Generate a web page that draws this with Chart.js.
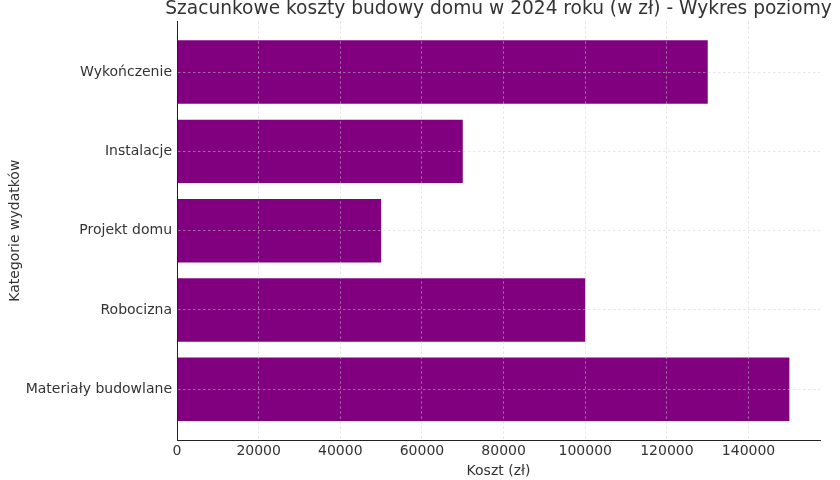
<!DOCTYPE html>
<html>
<head>
<meta charset="utf-8">
<script src="https://cdn.jsdelivr.net/npm/chart.js@4"></script>
<style>
  html, body { margin: 0; padding: 0; background: #fff; }
  #wrap { width: 840px; height: 480px; }
</style>
</head>
<body>
<div id="wrap"><canvas id="costChart"></canvas></div>
<script>
'use strict';

// Data, bottom to top (matplotlib barh order)
const categories = ['Materiały budowlane', 'Robocizna', 'Projekt domu', 'Instalacje', 'Wykończenie'];
const costs      = [150000, 100000, 50000, 70000, 130000];
const xTicks     = [0, 20000, 40000, 60000, 80000, 100000, 120000, 140000];

const TEXT = '#333333';
const GRID = 'rgba(205,205,205,0.5)';
const FONT = "'DejaVu Sans', sans-serif";

// Center the title over the plot area (like matplotlib), not the canvas
const centerTitle = {
  id: 'centerTitle',
  afterLayout(chart) {
    const t = chart.titleBlock;
    if (!t) return;
    const cx = (chart.chartArea.left + chart.chartArea.right) / 2;
    t.left = cx - 450;
    t.right = cx + 450;
  },
};

const ctx = document.getElementById('costChart').getContext('2d');
new Chart(ctx, {
  type: 'bar',
  data: {
    datasets: [{
      label: 'Koszt',
      data: costs.map((v, i) => ({ x: v, y: i })),
      backgroundColor: '#800080',
      borderWidth: 0,
      barPercentage: 0.8,
      categoryPercentage: 1,
    }],
  },
  options: {
    indexAxis: 'y',
    responsive: true,
    maintainAspectRatio: false,
    animation: false,
    layout: { padding: { left: 0, right: 20, top: 0, bottom: 0 } },
    plugins: {
      legend: { display: false },
      tooltip: { enabled: false },
      title: {
        display: true,
        text: 'Szacunkowe koszty budowy domu w 2024 roku (w zł) - Wykres poziomy',
        color: TEXT,
        font: { family: FONT, size: 18.6, weight: 'normal' },
        padding: { top: -2, bottom: 1 },
      },
    },
    scales: {
      x: {
        type: 'linear',
        min: 0,
        max: 157500,
        offset: false,
        afterBuildTicks: s => { s.ticks = xTicks.map(v => ({ value: v })); },
        afterFit: s => { s.height = 40; },
        ticks: {
          color: TEXT,
          font: { family: FONT, size: 14 },
          padding: 3,
          maxRotation: 0,
          callback: v => String(v),
        },
        // grid drawn above the bars, as in the original
        grid: { color: GRID, offset: false, drawTicks: false, tickLength: 0, z: 1 },
        border: { color: '#222', width: 1, dash: [2.5, 2.5], z: 1 },
        title: {
          display: true,
          text: 'Koszt (zł)',
          color: TEXT,
          font: { family: FONT, size: 14 },
          padding: { top: 0, bottom: 0 },
        },
      },
      y: {
        type: 'linear',
        min: -0.64,
        max: 4.64,
        offset: false,
        afterBuildTicks: s => { s.ticks = categories.map((c, i) => ({ value: i })); },
        afterFit: s => { s.width = 177; },
        ticks: {
          color: TEXT,
          font: { family: FONT, size: 14 },
          padding: 5,
          callback: v => categories[v] ?? '',
        },
        grid: { color: GRID, offset: false, drawTicks: false, tickLength: 0, z: 1 },
        border: { color: '#222', width: 1, dash: [2.5, 2.5], z: 1 },
        title: {
          display: true,
          text: 'Kategorie wydatków',
          color: TEXT,
          font: { family: FONT, size: 14 },
          padding: { top: 6.5, bottom: 0 },
        },
      },
    },
  },
  plugins: [centerTitle],
});
</script>
</body>
</html>
